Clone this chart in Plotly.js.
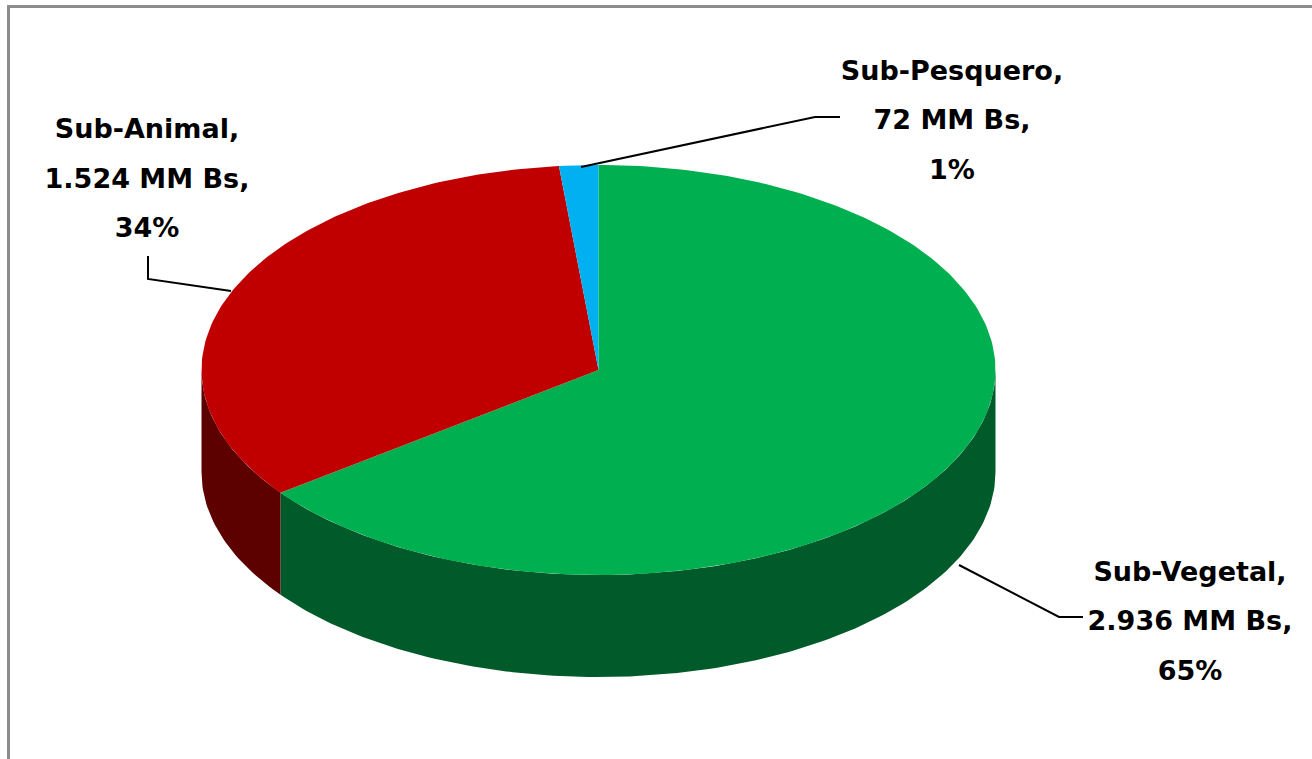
<!DOCTYPE html>
<html>
<head>
<meta charset="utf-8">
<script src="https://cdn.plot.ly/plotly-3.0.1.min.js"></script>
<style>html,body{margin:0;padding:0;background:#fff;overflow:hidden}#chart{width:1312px;height:759px}</style>
</head>
<body>
<div id="chart"></div>
<script>
// Data, in chart order (clockwise from 12 o'clock)
const categories = ['Sub-Vegetal', 'Sub-Animal', 'Sub-Pesquero'];
const values = [2936, 1524, 72];
const valueLabels = ['2.936 MM Bs,', '1.524 MM Bs,', '72 MM Bs,'];
const percentLabels = ['65%', '34%', '1%'];

// Styles
const topColors = ['#00B050', '#C00000', '#00B0F0'];
const sideColors = ['#005A2A', '#5C0000', '#00587A'];

// Geometry of the tilted pie, in pixel-based axis units
const cx = 598.5, cy = 370, rx = 397, ry = 205, depth = 102;
const labelX = [1190, 147, 952];
const labelY = [[574, 623, 673], [131, 181, 230], [73, 122, 172]];
const leaders = [
  {x: [959, 1059, 1083], y: [565, 617, 617]},
  {x: [148, 148, 231], y: [256, 279, 291]},
  {x: [581, 815, 840], y: [167, 117, 117]}
];

const total = values.reduce((a, b) => a + b, 0);
const rad = d => d * Math.PI / 180;
const px = t => cx + rx * Math.sin(rad(t));
const py = (t, dz) => cy - ry * Math.cos(rad(t)) + (dz || 0);

function arc(a, b, dz) {
  const xs = [], ys = [];
  const n = Math.max(2, Math.ceil(Math.abs(b - a)));
  for (let i = 0; i <= n; i++) {
    const t = a + (b - a) * i / n;
    xs.push(px(t)); ys.push(py(t, dz));
  }
  return {x: xs, y: ys};
}

const traces = [];
let start = 0;
const wedges = values.map(v => {
  const w = {a: start, b: start + v / total * 360};
  start = w.b;
  return w;
});

// Side walls: only the front half of the rim (90 to 270 degrees) shows
wedges.forEach((w, i) => {
  const a = Math.max(w.a, 90), b = Math.min(w.b, 270);
  if (b <= a) return;
  const top = arc(a, b, 0), bot = arc(b, a, depth);
  traces.push({
    type: 'scatter', mode: 'lines', fill: 'toself', fillcolor: sideColors[i],
    x: top.x.concat(bot.x), y: top.y.concat(bot.y),
    line: {width: 0}, hoverinfo: 'skip', showlegend: false
  });
});

// Top faces
wedges.forEach((w, i) => {
  const e = arc(w.a, w.b, 0);
  traces.push({
    type: 'scatter', mode: 'lines', fill: 'toself', fillcolor: topColors[i],
    x: [cx].concat(e.x, [cx]), y: [cy].concat(e.y, [cy]),
    line: {width: 0}, name: categories[i], hoverinfo: 'name', showlegend: false
  });
});

// Leader lines
leaders.forEach(l => traces.push({
  type: 'scatter', mode: 'lines', x: l.x, y: l.y,
  line: {color: '#000000', width: 2}, hoverinfo: 'skip', showlegend: false
}));

// Labels
categories.forEach((c, i) => traces.push({
  type: 'scatter', mode: 'text',
  x: [labelX[i], labelX[i], labelX[i]], y: labelY[i],
  text: [c + ',', valueLabels[i], percentLabels[i]],
  textposition: 'middle center',
  textfont: {family: '"DejaVu Sans", sans-serif', size: 27, color: '#000000', weight: 700},
  cliponaxis: false, hoverinfo: 'skip', showlegend: false
}));

const layout = {
  width: 1312, height: 759,
  margin: {l: 0, r: 0, t: 0, b: 0},
  paper_bgcolor: '#ffffff', plot_bgcolor: '#ffffff',
  showlegend: false,
  xaxis: {range: [0, 1312], visible: false, fixedrange: true},
  yaxis: {range: [759, 0], visible: false, fixedrange: true},
  shapes: [
    {type: 'line', xref: 'x', yref: 'y', x0: 8.5, x1: 8.5, y0: 5, y1: 759, line: {color: '#8C8C8C', width: 3}},
    {type: 'line', xref: 'x', yref: 'y', x0: 7, x1: 1312, y0: 6.5, y1: 6.5, line: {color: '#8C8C8C', width: 3}}
  ]
};

Plotly.newPlot('chart', traces, layout, {displayModeBar: false, staticPlot: true});
</script>
</body>
</html>
